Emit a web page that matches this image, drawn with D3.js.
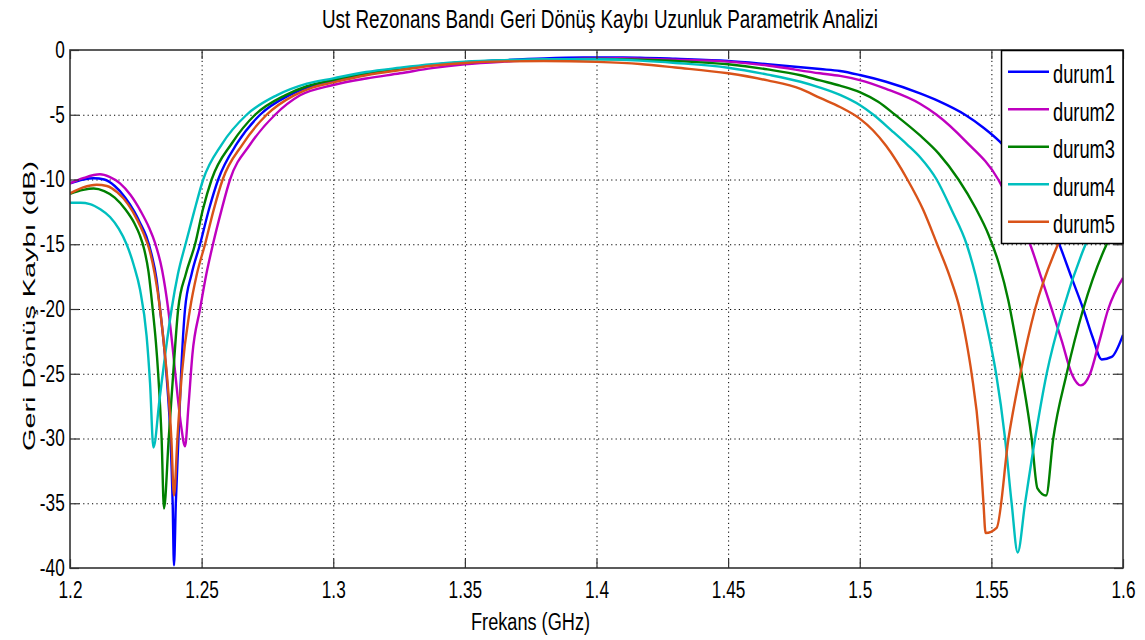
<!DOCTYPE html>
<html><head>
<meta charset="utf-8">
<title>Ust Rezonans Bandi</title>
<script src="https://d3js.org/d3.v7.min.js"></script>
<style>
  body { margin: 0; background: #fff; }
  svg text { font-family: "Liberation Sans", Arial, sans-serif; fill: #000; }
  .grid line { stroke: #000; stroke-dasharray: 1.2,3.2; stroke-width: 1; }
  .grid .domain { stroke: none; }
  .axis .domain { stroke: none; }
  .axis line { stroke: #333; stroke-width: 1.2; }
</style>
</head>
<body>
<svg id="chart" width="1145" height="640"></svg>
<script>

// 0. Data: [frekans GHz, dB]
const xTicks = [1.2, 1.25, 1.3, 1.35, 1.4, 1.45, 1.5, 1.55, 1.6];
const yTicks = [0, -5, -10, -15, -20, -25, -30, -35, -40];
const names = ["durum1", "durum2", "durum3", "durum4", "durum5"];
const colors = ["#0000ff", "#bf00bf", "#008000", "#00bfbf", "#d95319"];

const durum1 = [[1.200,-10.3],[1.205,-10.0],[1.209,-9.9],[1.213,-10.0],[1.217,-10.5],[1.221,-11.4],[1.2245,-12.5],[1.2265,-13.3],[1.2290,-14.4],[1.2310,-15.8],[1.2328,-17.6],[1.2342,-20],[1.2358,-23],[1.2370,-26],[1.2382,-30],[1.2390,-35],[1.2395,-39.8],[1.2402,-35],[1.2412,-30],[1.2422,-25],[1.2437,-20],[1.2462,-17.3],[1.2494,-15],[1.2528,-12.3],[1.2563,-10],[1.2635,-7.2],[1.2722,-5],[1.2832,-3.5],[1.290,-2.9],[1.300,-2.4],[1.3125,-1.85],[1.325,-1.45],[1.3375,-1.15],[1.350,-0.95],[1.365,-0.78],[1.380,-0.65],[1.395,-0.58],[1.410,-0.57],[1.4165,-0.59],[1.430,-0.68],[1.450,-0.85],[1.465,-1.1],[1.4849,-1.47],[1.4925,-1.62],[1.500,-1.93],[1.510,-2.45],[1.5229,-3.35],[1.530,-3.95],[1.540,-5.0],[1.547,-6.0],[1.5533,-7.1],[1.560,-8.7],[1.568,-11.3],[1.5758,-15],[1.5805,-17.6],[1.5849,-20],[1.5885,-22.2],[1.5919,-23.9],[1.5957,-23.7],[1.600,-22.0]];

const durum2 = [[1.200,-10.3],[1.205,-9.9],[1.2114,-9.6],[1.215,-9.8],[1.219,-10.3],[1.223,-11.2],[1.227,-12.5],[1.2300,-13.7],[1.2323,-14.9],[1.2350,-17.0],[1.2373,-20],[1.2390,-23],[1.2405,-26],[1.2422,-29],[1.2437,-30.6],[1.2450,-27.5],[1.2465,-23.5],[1.2494,-20],[1.2518,-17.3],[1.2543,-15],[1.2575,-12.4],[1.2608,-10],[1.2684,-7.3],[1.2779,-5],[1.2874,-3.5],[1.300,-2.7],[1.3125,-2.2],[1.3254,-1.8],[1.3375,-1.4],[1.350,-1.1],[1.365,-0.9],[1.380,-0.78],[1.395,-0.68],[1.410,-0.64],[1.4165,-0.67],[1.430,-0.74],[1.450,-0.9],[1.465,-1.2],[1.4849,-1.8],[1.4925,-2.0],[1.500,-2.32],[1.510,-3.0],[1.5229,-4.15],[1.5292,-5.0],[1.540,-7.0],[1.5526,-10.0],[1.558,-12.2],[1.5647,-15],[1.5690,-17.6],[1.5729,-20],[1.5768,-22.5],[1.5805,-25],[1.5840,-25.9],[1.5875,-25],[1.5910,-22.5],[1.5944,-20],[1.600,-17.6]];

const durum3 = [[1.200,-11.1],[1.205,-10.8],[1.209,-10.7],[1.213,-10.9],[1.217,-11.4],[1.221,-12.3],[1.2245,-13.4],[1.2265,-14.3],[1.2282,-15.4],[1.2298,-17.1],[1.2314,-20],[1.2326,-22.5],[1.2335,-25],[1.2348,-30],[1.2357,-35.4],[1.2375,-30],[1.2392,-25],[1.2411,-20],[1.2440,-17.3],[1.2475,-15],[1.2505,-12.3],[1.2538,-10],[1.2615,-7.2],[1.2703,-5],[1.2817,-3.5],[1.290,-2.8],[1.300,-2.3],[1.3125,-1.8],[1.325,-1.45],[1.3375,-1.15],[1.350,-0.95],[1.365,-0.82],[1.380,-0.74],[1.400,-0.7],[1.4165,-0.75],[1.430,-0.85],[1.450,-1.1],[1.465,-1.5],[1.4775,-1.95],[1.4849,-2.35],[1.4925,-2.75],[1.500,-3.25],[1.507,-4.0],[1.5134,-5.0],[1.5229,-6.6],[1.530,-8.0],[1.5375,-10],[1.5440,-12.2],[1.5490,-14.3],[1.5530,-16.6],[1.5564,-19.3],[1.5592,-22.3],[1.5615,-25],[1.5653,-30],[1.5675,-33.85],[1.5708,-34.4],[1.5735,-30],[1.5786,-25],[1.5849,-20],[1.5938,-15],[1.600,-12.8]];

const durum4 = [[1.200,-11.8],[1.204,-11.8],[1.2076,-11.9],[1.2115,-12.3],[1.2152,-12.9],[1.2185,-13.8],[1.2215,-15],[1.2242,-16.6],[1.2266,-18.5],[1.2291,-22.1],[1.2304,-25.7],[1.2317,-30.7],[1.2340,-27.0],[1.2363,-23.3],[1.2386,-20],[1.2410,-17.3],[1.2440,-14.9],[1.2470,-12.6],[1.2506,-10],[1.2576,-7.3],[1.2671,-5],[1.2785,-3.5],[1.290,-2.6],[1.300,-2.19],[1.3125,-1.7],[1.3254,-1.37],[1.3375,-1.1],[1.350,-0.9],[1.365,-0.78],[1.380,-0.72],[1.400,-0.72],[1.4165,-0.82],[1.430,-1.0],[1.450,-1.37],[1.465,-1.9],[1.4775,-2.45],[1.4849,-2.9],[1.4925,-3.47],[1.500,-4.25],[1.5052,-5],[1.512,-6.2],[1.518,-7.3],[1.523,-8.3],[1.5292,-10],[1.535,-12.4],[1.5406,-15],[1.5440,-17.4],[1.5469,-20],[1.5495,-22.5],[1.5518,-25],[1.5552,-30],[1.5577,-35],[1.5600,-38.8],[1.5628,-35],[1.5666,-30],[1.5710,-25],[1.5773,-20],[1.5858,-15],[1.5930,-12],[1.600,-10]];

const durum5 = [[1.200,-11.07],[1.205,-10.6],[1.2101,-10.4],[1.214,-10.5],[1.218,-11.0],[1.222,-11.9],[1.2255,-13.1],[1.2280,-14.2],[1.2300,-15.3],[1.2322,-17.3],[1.2342,-20],[1.2358,-23],[1.2372,-26],[1.2385,-30],[1.2395,-34.4],[1.2408,-30],[1.2425,-25],[1.2456,-20],[1.2482,-17.3],[1.2513,-15],[1.2545,-12.4],[1.2580,-10],[1.2655,-7.3],[1.2747,-5],[1.2851,-3.5],[1.292,-2.9],[1.300,-2.5],[1.3125,-1.95],[1.3254,-1.55],[1.3375,-1.22],[1.350,-1.0],[1.365,-0.88],[1.380,-0.85],[1.400,-0.92],[1.4165,-1.08],[1.430,-1.35],[1.450,-1.8],[1.465,-2.35],[1.4775,-3.0],[1.4849,-3.7],[1.4925,-4.4],[1.500,-5.3],[1.505,-6.2],[1.510,-7.4],[1.5181,-10],[1.524,-12.3],[1.5294,-15],[1.5342,-17.5],[1.5380,-20],[1.5405,-22.5],[1.5425,-25],[1.5454,-30],[1.5470,-35],[1.5478,-37.3],[1.5520,-36.9],[1.5565,-30],[1.5610,-25],[1.5666,-20],[1.5753,-15],[1.585,-11.2],[1.600,-7.5]];

const series = [durum1, durum2, durum3, durum4, durum5];

// 1. SVG + margins
let svg = d3.select("svg#chart");
let margin = { top: 50, right: 22, bottom: 72, left: 70 };
let chartWidth = 1145 - margin.left - margin.right;   // 1053
let chartHeight = 640 - margin.top - margin.bottom;   // 518

const xScale = d3.scaleLinear().domain([1.2, 1.6]).range([0, chartWidth]);
const yScale = d3.scaleLinear().domain([-40, 0]).range([chartHeight, 0]);

let plot = svg.append("g").attr("transform", "translate(" + margin.left + "," + margin.top + ")");

// 2. dotted gridlines (inner ticks only)
plot.append("g").attr("class", "grid")
  .attr("transform", "translate(0," + chartHeight + ")")
  .call(d3.axisBottom(xScale).tickValues(xTicks.slice(1, -1)).tickSize(-chartHeight).tickFormat(""));
plot.append("g").attr("class", "grid")
  .call(d3.axisLeft(yScale).tickValues(yTicks.slice(1, -1)).tickSize(-chartWidth).tickFormat(""));

// 3. the curves, clipped to the plot box
svg.append("defs").append("clipPath").attr("id", "clip")
  .append("rect").attr("width", chartWidth).attr("height", chartHeight);

// monotone keeps the smooth shoulders without overshooting the dips
let line = d3.line().curve(d3.curveMonotoneX).x(d => xScale(d[0])).y(d => yScale(d[1]));
let curves = plot.append("g").attr("clip-path", "url(#clip)");
series.forEach((s, i) => {
  curves.append("path").datum(s)
    .attr("d", line)
    .attr("fill", "none")
    .attr("stroke", colors[i])
    .attr("stroke-width", 2.4)
    .attr("stroke-linejoin", "round");
});

// 4. axes with inward ticks on all four sides (MATLAB look)
const squeeze = 0.75; // the picture's text is narrow
const plain = d => String(d); // plain hyphen, not the unicode minus
let bottomAxis = plot.append("g").attr("class", "axis")
  .attr("transform", "translate(0," + chartHeight + ")")
  .call(d3.axisBottom(xScale).tickValues(xTicks).tickSize(-9).tickPadding(14).tickFormat(plain));
bottomAxis.selectAll("text").style("font-size", "23px").attr("transform", "scale(" + squeeze + ",1)");

let leftAxis = plot.append("g").attr("class", "axis")
  .call(d3.axisLeft(yScale).tickValues(yTicks).tickSize(-9).tickPadding(7).tickFormat(plain));
leftAxis.selectAll("text").style("font-size", "23px").attr("transform", "scale(" + squeeze + ",1)");

plot.append("g").attr("class", "axis")
  .call(d3.axisTop(xScale).tickValues(xTicks).tickSize(-9).tickFormat(""));
plot.append("g").attr("class", "axis")
  .attr("transform", "translate(" + chartWidth + ",0)")
  .call(d3.axisRight(yScale).tickValues(yTicks).tickSize(-9).tickFormat(""));

// frame
plot.append("rect")
  .attr("width", chartWidth).attr("height", chartHeight)
  .attr("fill", "none").attr("stroke", "#333").attr("stroke-width", 1.6);

// 5. legend in the top-right corner
let legend = plot.append("g").attr("transform", "translate(" + (chartWidth - 121.5) + ",0)");
legend.append("rect")
  .attr("x", 0).attr("y", 0.5).attr("width", 121.5).attr("height", 193)
  .attr("fill", "#fff").attr("stroke", "#000").attr("stroke-width", 1.5);
names.forEach((n, i) => {
  let ly = 21.7 + i * 37.5;
  legend.append("line")
    .attr("x1", 6.5).attr("x2", 47.5).attr("y1", ly).attr("y2", ly)
    .attr("stroke", colors[i]).attr("stroke-width", 2.4);
  legend.append("text")
    .attr("x", 51.5).attr("y", ly + 11.5)
    .attr("textLength", 62).attr("lengthAdjust", "spacingAndGlyphs")
    .style("font-size", "25px")
    .text(n);
});

// 6. titles
svg.append("text")
  .attr("x", 600).attr("y", 28).attr("text-anchor", "middle")
  .attr("textLength", 556).attr("lengthAdjust", "spacingAndGlyphs")
  .style("font-size", "26px")
  .text("Ust Rezonans Bandı Geri Dönüş Kaybı Uzunluk Parametrik Analizi");

svg.append("text")
  .attr("x", 530.5).attr("y", 630).attr("text-anchor", "middle")
  .attr("textLength", 119).attr("lengthAdjust", "spacingAndGlyphs")
  .style("font-size", "23px")
  .text("Frekans (GHz)");

svg.append("text")
  .attr("transform", "translate(35,306) rotate(-90)")
  .attr("text-anchor", "middle")
  .attr("textLength", 290).attr("lengthAdjust", "spacingAndGlyphs")
  .style("font-size", "17px")
  .text("Geri Dönüş Kaybı (dB)");

</script>
</body>
</html>
